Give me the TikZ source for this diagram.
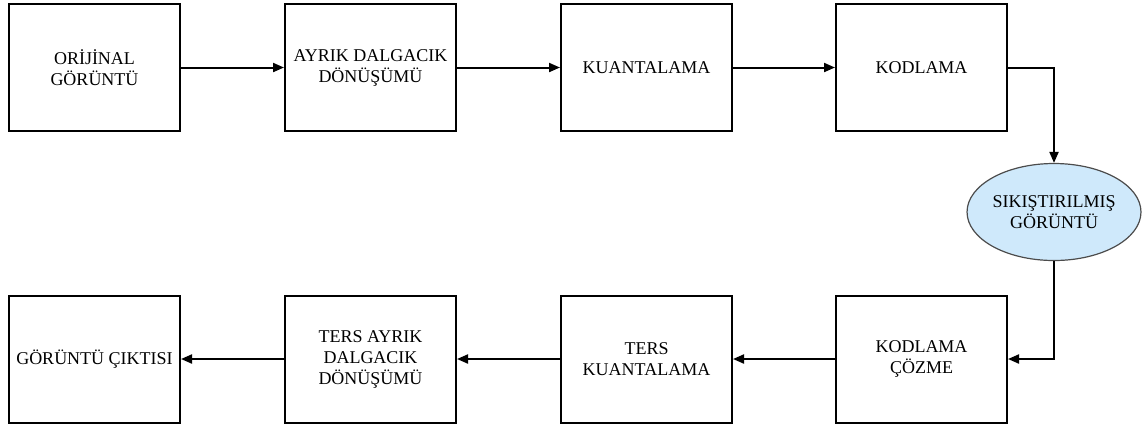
\documentclass[tikz,border=0pt]{standalone}
\usepackage{fontspec}
\setmainfont{Liberation Serif}
\usetikzlibrary{arrows.meta,shapes.geometric}
\definecolor{sikfill}{HTML}{CFE9FB}
\tikzset{
  blok/.style={draw, line width=1pt, minimum width=85.5pt, minimum height=63.5pt,
    align=center, font=\fontsize{9}{10.5}\selectfont, inner sep=1pt},
  sikis/.style={ellipse, draw=black!70, line width=0.6pt, fill=sikfill,
    minimum width=84pt, minimum height=48.5pt, align=center, inner sep=0pt,
    font=\fontsize{9}{10.5}\selectfont},
  ok/.style={-{Triangle[length=5.5pt,width=4.5pt]}, line width=1pt}
}
\begin{document}
\begin{tikzpicture}[x=0.5pt, y=-0.5pt]
      \useasboundingbox (0, 0) rectangle (1145, 425);

      % ust sira
      \node [blok] (orj) at (94.5, 67.5) {ORİJİNAL\\GÖRÜNTÜ};
      \node [blok] (adg) at (370.5, 67.5) {AYRIK DALGACIK\\DÖNÜŞÜMÜ};
      \node [blok] (kua) at (646.5, 67.5) {KUANTALAMA};
      \node [blok] (kod) at (921.5, 67.5) {KODLAMA};

      \node [sikis] (sik) at (1054, 212) {SIKIŞTIRILMIŞ\\GÖRÜNTÜ};

      % alt sira
      \node [blok] (kcz) at (921.5, 359) {KODLAMA\\ÇÖZME};
      \node [blok] (tku) at (646.5, 359) {TERS\\KUANTALAMA};
      \node [blok] (tad) at (370.5, 359) {TERS AYRIK\\DALGACIK\\DÖNÜŞÜMÜ};
      \node [blok] (cik) at (94.5, 359) {GÖRÜNTÜ ÇIKTISI};

      \draw [ok] (orj) -- (adg);
      \draw [ok] (adg) -- (kua);
      \draw [ok] (kua) -- (kod);
      \draw [ok] (kod.east) -| (sik.north);
      \draw [ok] (sik.south) |- (kcz.east);
      \draw [ok] (kcz) -- (tku);
      \draw [ok] (tku) -- (tad);
      \draw [ok] (tad) -- (cik);
    \end{tikzpicture}
\end{document}
